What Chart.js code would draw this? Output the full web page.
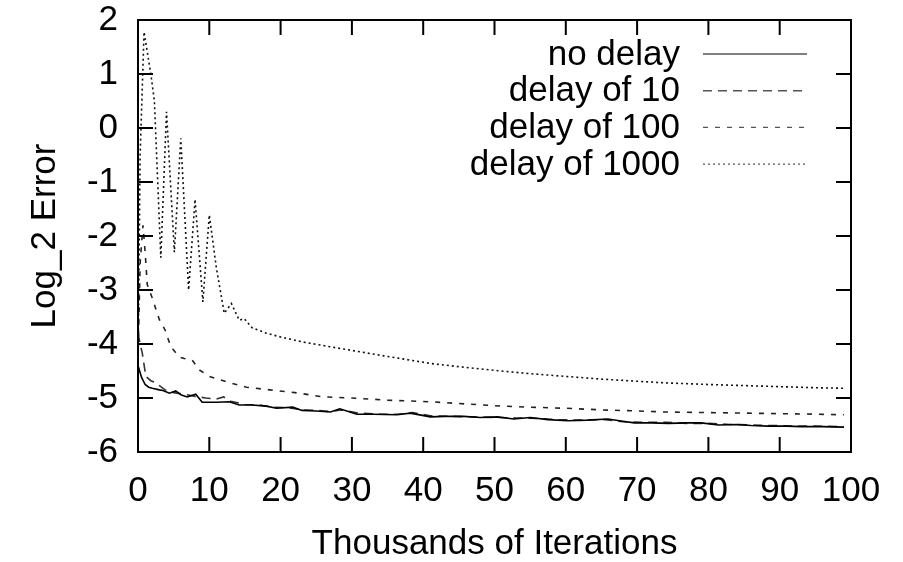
<!DOCTYPE html>
<html>
<head>
<meta charset="utf-8">
<script src="https://cdn.jsdelivr.net/npm/chart.js@4/dist/chart.umd.min.js"></script>
<style>
  html, body { margin: 0; padding: 0; background: #fff; }
  #wrap { width: 903px; height: 562px; }
</style>
</head>
<body>
<div id="wrap"><canvas id="errChart" width="903" height="562"></canvas></div>
<script>
// values: [thousands of iterations, log2 error]
const seriesNames = ["no delay", "delay of 10", "delay of 100", "delay of 1000"];

const noDelay = [[0,-4.4],[0.5,-4.62],[1,-4.75],[1.5,-4.8],[2,-4.82],[3,-4.85],[3.5,-4.86],[4.4,-4.91],[5.3,-4.87],[6,-4.94],
  [6.9,-4.98],[8.1,-4.93],[9,-5.08],[11,-5.08],[12.8,-5.07],[14.2,-5.13],[16,-5.13],[18,-5.15],[19.4,-5.19],[21.7,-5.17],
  [23,-5.23],[25,-5.24],[27,-5.26],[28.3,-5.2],[30.7,-5.3],[33,-5.3],[36.3,-5.31],[38.2,-5.28],[41,-5.35],[43,-5.34],
  [45.7,-5.34],[48,-5.36],[50.4,-5.35],[52.7,-5.39],[55,-5.36],[57.5,-5.4],[60.3,-5.42],[63,-5.41],[65.9,-5.39],[68,-5.43],
  [69.6,-5.46],[72,-5.46],[74.4,-5.47],[77,-5.46],[79,-5.46],[81.4,-5.5],[84,-5.49],[86,-5.51],[88.4,-5.52],[91,-5.52],
  [93,-5.53],[96,-5.53],[99,-5.54]];

const delay10 = [[0,-3.8],[0.3,-4.0],[0.6,-4.17],[1.1,-4.6],[1.8,-4.68],[2.5,-4.72],[3.8,-4.85],[5,-4.9],[6.5,-4.93],[8,-4.97],
  [9.5,-5.0],[11,-5.02],[12,-4.98],[13,-5.06],[15,-5.12],[17,-5.13],[19,-5.17],[21,-5.18],[23,-5.22],[25,-5.23],
  [27,-5.25],[28.5,-5.22],[31,-5.28],[34,-5.3],[36.5,-5.3],[38.5,-5.27],[41,-5.33],[44,-5.34],[47,-5.35],[50,-5.36],
  [53,-5.37],[56,-5.38],[59,-5.4],[62,-5.41],[65.5,-5.4],[68,-5.44],[71,-5.45],[74,-5.45],[77,-5.47],[80,-5.47],
  [83,-5.49],[86,-5.5],[89,-5.51],[92,-5.52],[95,-5.52],[99,-5.53]];

const delay100 = [[0,-4.3],[0.3,-2.5],[0.7,-1.8],[1.0,-2.3],[1.3,-2.9],[2,-3.15],[3,-3.55],[3.8,-3.74],[4.6,-4.05],[5.8,-4.24],
  [6.5,-4.27],[7.6,-4.3],[8.6,-4.48],[10,-4.6],[12.4,-4.7],[15.2,-4.8],[18.5,-4.85],[22,-4.9],[26,-4.98],[30,-5.0],
  [35,-5.04],[41,-5.07],[46,-5.11],[51,-5.15],[55,-5.17],[60,-5.19],[65,-5.22],[70,-5.24],[74,-5.26],[80,-5.27],
  [85,-5.28],[90,-5.29],[95,-5.3],[99,-5.31]];

const delay1000 = [[0,-4.4],[0.3,-0.5],[0.85,1.78],[1.8,1.0],[2.3,0.5],[3.2,-2.4],[4.0,0.3],[5.1,-2.3],[6.0,-0.19],[7.1,-3.0],
  [8.0,-1.32],[9.1,-3.22],[10.0,-1.61],[11,-2.6],[12.1,-3.43],[13.1,-3.25],[14.2,-3.56],[14.9,-3.53],[16,-3.7],[18,-3.8],
  [20,-3.87],[23,-3.96],[26.9,-4.05],[30,-4.12],[35,-4.23],[41,-4.36],[45,-4.42],[51,-4.5],[55,-4.55],[60,-4.6],
  [65,-4.65],[70,-4.69],[74,-4.72],[80,-4.75],[85,-4.77],[90,-4.79],[95,-4.81],[99,-4.82]];

const xTicks = [0, 10, 20, 30, 40, 50, 60, 70, 80, 90, 100];
const yTicks = [-6, -5, -4, -3, -2, -1, 0, 1, 2];

const FONT = '"Liberation Sans", Arial, Helvetica, sans-serif';
Chart.defaults.font.family = FONT;
Chart.defaults.color = '#000';

function pts(arr) {
  return arr.map(function (p) { return {x: p[0], y: p[1]}; });
}

// box round the plot with ticks pointing inwards, like gnuplot
const framePlugin = {
  id: 'frame',
  afterDatasetsDraw: function (chart) {
    const ctx = chart.ctx;
    const a = chart.chartArea;
    const xs = chart.scales.x, ys = chart.scales.y;
    const len = 15;
    ctx.save();
    ctx.strokeStyle = '#000';
    ctx.lineWidth = 2;
    ctx.strokeRect(a.left, a.top, a.right - a.left, a.bottom - a.top);
    ctx.beginPath();
    xTicks.forEach(function (v) {
      const px = xs.getPixelForValue(v);
      ctx.moveTo(px, a.bottom); ctx.lineTo(px, a.bottom - len);
      ctx.moveTo(px, a.top); ctx.lineTo(px, a.top + len);
    });
    yTicks.forEach(function (v) {
      const py = ys.getPixelForValue(v);
      ctx.moveTo(a.left, py); ctx.lineTo(a.left + len, py);
      ctx.moveTo(a.right, py); ctx.lineTo(a.right - len, py);
    });
    ctx.stroke();
    ctx.restore();
  }
};

// key inside the plot: text right aligned, line sample to its right
const keyPlugin = {
  id: 'key',
  afterDraw: function (chart) {
    const ctx = chart.ctx;
    const textRight = 680, lineL = 703, lineR = 807, top = 54, step = 36.7;
    ctx.save();
    ctx.font = '35px ' + FONT;
    ctx.textAlign = 'right';
    ctx.textBaseline = 'middle';
    chart.data.datasets.forEach(function (ds, i) {
      const y = top + i * step;
      ctx.fillStyle = '#000';
      ctx.fillText(ds.label, textRight, y + 1);
      ctx.beginPath();
      ctx.strokeStyle = '#555';
      ctx.lineWidth = 1.4;
      ctx.setLineDash(ds.borderDash || []);
      ctx.moveTo(lineL, y); ctx.lineTo(lineR, y);
      ctx.stroke();
    });
    ctx.restore();
  }
};

new Chart(document.getElementById("errChart"), {
  type: 'line',
  data: {
    datasets: [{
      label: seriesNames[0],
      data: pts(noDelay),
      borderColor: '#000',
      borderWidth: 1.6,
      borderDash: []
    }, {
      label: seriesNames[1],
      data: pts(delay10),
      borderColor: '#333',
      borderWidth: 1.6,
      borderDash: [9, 6]
    }, {
      label: seriesNames[2],
      data: pts(delay100),
      borderColor: '#222',
      borderWidth: 1.6,
      borderDash: [5, 7]
    }, {
      label: seriesNames[3],
      data: pts(delay1000),
      borderColor: '#111',
      borderWidth: 1.6,
      borderDash: [2, 3]
    }]
  },
  options: {
    responsive: false,
    animation: false,
    layout: { padding: { top: 0, right: 52, bottom: 0, left: 0 } },
    elements: { point: { radius: 0 }, line: { tension: 0 } },
    plugins: {
      legend: { display: false },
      tooltip: { enabled: false }
    },
    scales: {
      x: {
        type: 'linear',
        min: 0,
        max: 100,
        afterFit: function (scale) { scale.height = 110; },
        afterBuildTicks: function (scale) {
          scale.ticks = xTicks.map(function (v) { return {value: v}; });
        },
        grid: { display: false, drawTicks: false },
        border: { display: false },
        ticks: { font: { size: 35 }, padding: 18, maxRotation: 0, autoSkip: false },
        title: {
          display: true,
          text: 'Thousands of Iterations',
          font: { size: 35 },
          padding: { top: 0, bottom: -3 }
        }
      },
      y: {
        min: -6,
        max: 2,
        afterFit: function (scale) {
          scale.width = 138;
          scale.paddingTop = 20;
          scale.paddingBottom = 20;
        },
        afterBuildTicks: function (scale) {
          scale.ticks = yTicks.map(function (v) { return {value: v}; });
        },
        grid: { display: false, drawTicks: false },
        border: { display: false },
        ticks: { font: { size: 35 }, padding: 20, autoSkip: false },
        title: {
          display: true,
          text: 'Log_2 Error',
          font: { size: 35 },
          padding: { top: 24, bottom: 0 }
        }
      }
    }
  },
  plugins: [framePlugin, keyPlugin]
});
</script>
</body>
</html>
